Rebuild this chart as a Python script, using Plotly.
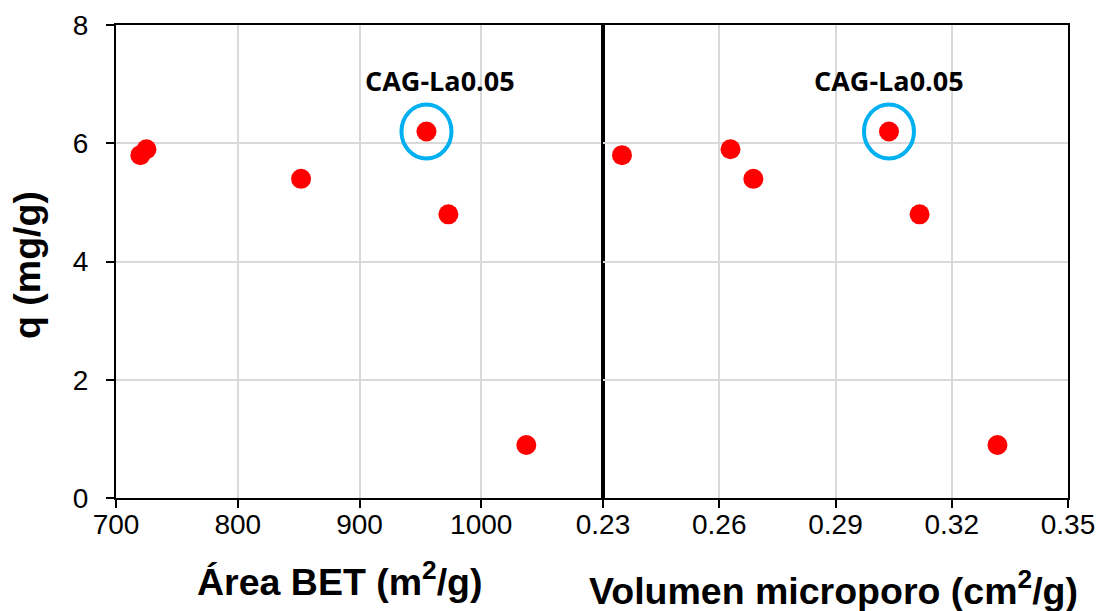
import plotly.graph_objects as go

# Adsorption capacity vs. textural properties
area_bet = [720, 725, 852, 955, 973, 1037]          # m2/g
q_area = [5.8, 5.9, 5.4, 6.2, 4.8, 0.9]             # mg/g
vol_micro = [0.2349, 0.2629, 0.2688, 0.3038, 0.3117, 0.3318]  # cm3/g
q_vol = [5.8, 5.9, 5.4, 6.2, 4.8, 0.9]              # mg/g

area_ticks = [700, 800, 900, 1000]
vol_ticks = [0.23, 0.26, 0.29, 0.32, 0.35]
q_ticks = [0, 2, 4, 6, 8]

highlight_label = "CAG-La0.05"
hl_area, hl_q_area = 955, 6.2
hl_vol, hl_q_vol = 0.3038, 6.2

W, H = 1099, 611
left, mid, right = 116, 603, 1068
top, bottom = 25, 498.3

RED = "#ff0000"
BLUE = "#00b0f0"
GRID = "#d9d9d9"
AX_FONT = dict(family="Liberation Sans, Arial, sans-serif", size=28, color="black")

fig = go.Figure()
marker = dict(color=RED, size=20, line=dict(width=0))
fig.add_trace(go.Scatter(x=area_bet, y=q_area, mode="markers", marker=marker,
                         xaxis="x", yaxis="y", showlegend=False))
fig.add_trace(go.Scatter(x=vol_micro, y=q_vol, mode="markers", marker=marker,
                         xaxis="x2", yaxis="y2", showlegend=False))

axis_common = dict(showline=True, linecolor="black", linewidth=2, mirror=True,
                   showgrid=True, gridcolor=GRID, gridwidth=1.5, zeroline=False,
                   ticks="outside", ticklen=8, tickwidth=2, tickcolor="black",
                   tickfont=AX_FONT, automargin=False)

fig.update_layout(
    width=W, height=H,
    margin=dict(l=0, r=0, t=0, b=0, autoexpand=False),
    paper_bgcolor="white", plot_bgcolor="white",
    xaxis=dict(domain=[left / W, mid / W], range=[700, 1100], tickvals=area_ticks,
               anchor="y", ticklabelstandoff=-8, **axis_common),
    xaxis2=dict(domain=[mid / W, right / W], range=[0.23, 0.35], tickvals=vol_ticks,
                tickformat=".2f", anchor="y2", ticklabelstandoff=-8, **axis_common),
    yaxis=dict(domain=[1 - bottom / H, 1 - top / H], range=[0, 8], tickvals=q_ticks,
               anchor="x", ticklabelstandoff=12, **axis_common),
    yaxis2=dict(domain=[1 - bottom / H, 1 - top / H], range=[0, 8], tickvals=q_ticks,
                anchor="x2", **{**axis_common, "ticks": "", "showticklabels": False}),
)

# Highlight rings around the selected sample
for xref, yref, xv, yv in [("x", "y", hl_area, hl_q_area), ("x2", "y2", hl_vol, hl_q_vol)]:
    fig.add_shape(type="circle", xref=xref, yref=yref,
                  xsizemode="pixel", ysizemode="pixel",
                  xanchor=xv, yanchor=yv,
                  x0=-25, x1=25, y0=-27, y1=27,
                  line=dict(color=BLUE, width=4))

label_font = dict(family="Open Sans, sans-serif", size=27, color="black", weight="bold")
fig.add_annotation(x=hl_area, y=hl_q_area, xref="x", yref="y", text=highlight_label,
                   showarrow=False, xshift=14, yshift=51, font=label_font)
fig.add_annotation(x=hl_vol, y=hl_q_vol, xref="x2", yref="y2", text=highlight_label,
                   showarrow=False, xshift=0, yshift=51, font=label_font)

title_font = dict(family="Liberation Sans, Arial, sans-serif", size=37.5, color="black")
fig.add_annotation(x=340 / W, y=1 - 579 / H, xref="paper", yref="paper",
                   text="<b>Área BET (m<sup>2</sup>/g)</b>", showarrow=False,
                   font=title_font, xanchor="center", yanchor="middle")
fig.add_annotation(x=833 / W, y=1 - 588 / H, xref="paper", yref="paper",
                   text="<b>Volumen microporo (cm<sup>2</sup>/g)</b>", showarrow=False,
                   font=title_font, xanchor="center", yanchor="middle")
fig.add_annotation(x=27 / W, y=1 - 265 / H, xref="paper", yref="paper",
                   text="<b>q (mg/g)</b>", showarrow=False, textangle=-90,
                   font=title_font, xanchor="center", yanchor="middle")

fig.write_html("out.html")
